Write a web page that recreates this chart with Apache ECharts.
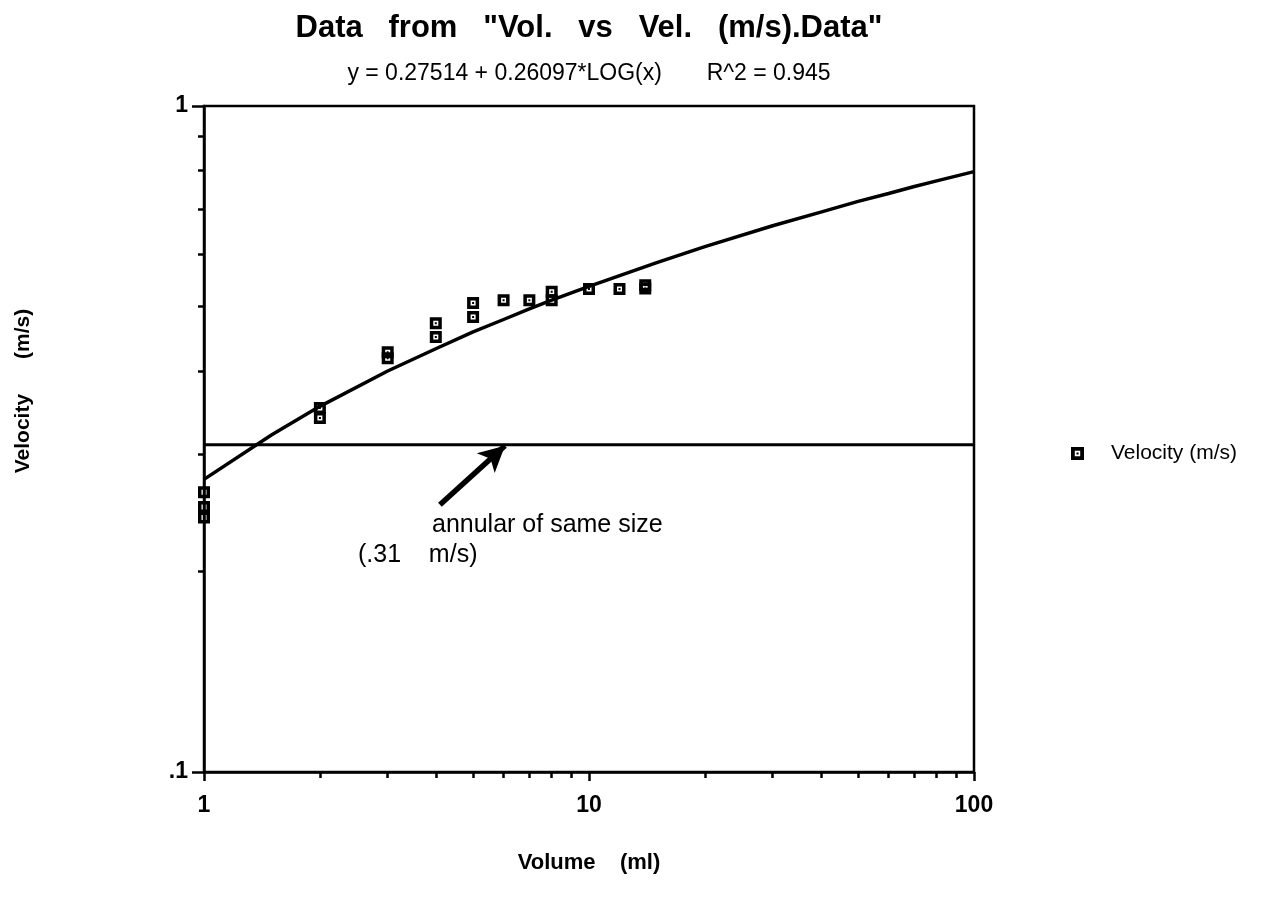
<!DOCTYPE html>
<html>
<head>
<meta charset="utf-8">
<script src="https://cdn.jsdelivr.net/npm/echarts@6/dist/echarts.min.js"></script>
<style>html,body{margin:0;padding:0;background:#fff}#c{width:1268px;height:900px}</style>
</head>
<body>
<div id="c"></div>
<script>
// ---- data ----
const volume = [1, 1, 1, 2, 2, 3, 3, 4, 4, 5, 5, 6, 7, 8, 8, 10, 12, 14, 14];
const velocity = [0.263, 0.250, 0.241, 0.352, 0.340, 0.427, 0.418, 0.472, 0.450, 0.506, 0.482, 0.511, 0.511, 0.526, 0.511, 0.531, 0.531, 0.538, 0.532];
// fitted curve as drawn: y = 0.27514 + 0.26097*LOG(x)
const fitX = [1, 1.5, 2, 3, 4, 5, 6, 7, 8, 10, 15, 20, 30, 40, 50, 60, 70, 80, 100];
const fitY = [0.275, 0.321, 0.354, 0.400, 0.432, 0.458, 0.478, 0.496, 0.511, 0.536, 0.582, 0.615, 0.661, 0.693, 0.719, 0.739, 0.757, 0.772, 0.797];
// "annular of same size" reference level
const refX = [1, 100];
const refY = [0.31, 0.31];
// arrow annotation (data coords)
const arrowFrom = [4.1, 0.252];
const arrowTo = [6.05, 0.309];
// ticks
const xMajor = [1, 10, 100];
const xMinor = [2, 3, 4, 5, 6, 7, 8, 9, 20, 30, 40, 50, 60, 70, 80, 90];
const yMajor = [0.1, 1];
const yMinor = [0.2, 0.3, 0.4, 0.5, 0.6, 0.7, 0.8, 0.9];

const FONT = '"Liberation Sans", Arial, Helvetica, sans-serif';
const SYM = 'path://M0,0H12V12H0Z M3.5,3.5V8.5H8.5V3.5Z M5,5H7V7H5Z';

const chart = echarts.init(document.getElementById('c'), null, {renderer: 'canvas'});

const axisLine = {show: true, lineStyle: {color: '#000', width: 2.5}};

const option = {
  backgroundColor: '#fff',
  animation: false,
  title: {
    text: 'Data   from   "Vol.   vs   Vel.   (m/s).Data"',
    subtext: 'y = 0.27514 + 0.26097*LOG(x)       R^2 = 0.945',
    left: 589, top: 13, textAlign: 'center', padding: 0, itemGap: 18,
    textStyle: {fontFamily: FONT, fontSize: 31, fontWeight: 'bold', color: '#000'},
    subtextStyle: {fontFamily: FONT, fontSize: 23, color: '#000'}
  },
  legend: {
    data: ['Velocity (m/s)'],
    left: 1066, top: 438, orient: 'vertical',
    itemWidth: 13, itemHeight: 13, icon: SYM,
    textStyle: {fontFamily: FONT, fontSize: 21, color: '#000', padding: [0, 0, 0, 22]}
  },
  grid: {left: 204, right: 294, top: 106, bottom: 128, show: true, borderColor: '#000', borderWidth: 2.5, backgroundColor: 'transparent'},
  xAxis: [
    {
      type: 'log', logBase: 10, min: 1, max: 100, position: 'bottom',
      name: 'Volume    (ml)', nameLocation: 'middle', nameGap: 80,
      nameTextStyle: {fontFamily: FONT, fontSize: 22, fontWeight: 'bold', color: '#000'},
      axisLine: axisLine,
      axisTick: {show: true, customValues: xMajor, length: 9, lineStyle: {color: '#000', width: 2.5}},
      axisLabel: {customValues: xMajor, margin: 22, fontFamily: FONT, fontSize: 23, fontWeight: 'bold', color: '#000',
        formatter: v => String(Math.round(v))},
      splitLine: {show: false}, minorTick: {show: false}, minorSplitLine: {show: false}
    },
    {
      type: 'log', logBase: 10, min: 1, max: 100, position: 'bottom',
      axisLine: {show: false},
      axisTick: {show: true, customValues: xMinor, length: 6, lineStyle: {color: '#000', width: 2.5}},
      axisLabel: {show: false}, splitLine: {show: false}
    }
  ],
  yAxis: [
    {
      type: 'log', logBase: 10, min: 0.1, max: 1, position: 'left',
      name: 'Velocity      (m/s)', nameLocation: 'middle', nameGap: 170, nameRotate: 90,
      nameTextStyle: {fontFamily: FONT, fontSize: 21, fontWeight: 'bold', color: '#000', padding: [0, 0, 0, 96]},
      axisLine: axisLine,
      axisTick: {show: true, customValues: yMajor, length: 12, lineStyle: {color: '#000', width: 2.5}},
      axisLabel: {customValues: yMajor, margin: 16, fontFamily: FONT, fontSize: 23, fontWeight: 'bold', color: '#000',
        formatter: v => (v >= 1 ? '1' : '.1')},
      splitLine: {show: false}, minorTick: {show: false}
    },
    {
      type: 'log', logBase: 10, min: 0.1, max: 1, position: 'left',
      axisLine: {show: false},
      axisTick: {show: true, customValues: yMinor, length: 6, lineStyle: {color: '#000', width: 2.5}},
      axisLabel: {show: false}, splitLine: {show: false}
    }
  ],
  series: [
    {
      name: 'fit', type: 'line', xAxisIndex: 0, yAxisIndex: 0,
      data: fitX.map((x, i) => [x, fitY[i]]),
      symbol: 'none', smooth: false, silent: true,
      lineStyle: {color: '#000', width: 3.5}, z: 2
    },
    {
      name: 'annular', type: 'line', xAxisIndex: 0, yAxisIndex: 0,
      data: refX.map((x, i) => [x, refY[i]]),
      symbol: 'none', silent: true,
      lineStyle: {color: '#000', width: 3}, z: 2,
      markLine: {
        silent: true, symbol: ['none', 'arrow'], symbolSize: [20, 26],
        label: {show: false},
        lineStyle: {color: '#000', width: 5.5, type: 'solid'},
        data: [[{coord: arrowFrom}, {coord: arrowTo}]]
      }
    },
    {
      name: 'Velocity (m/s)', type: 'scatter', xAxisIndex: 0, yAxisIndex: 0,
      data: volume.map((x, i) => [x, velocity[i]]),
      symbol: SYM, symbolSize: 12,
      itemStyle: {color: '#000', opacity: 1}, z: 5
    }
  ],
  graphic: [
    {type: 'text', left: 432, top: 513, style: {text: 'annular of same size', font: '25px ' + FONT, fill: '#000'}},
    {type: 'text', left: 358, top: 543, style: {text: '(.31    m/s)', font: '25px ' + FONT, fill: '#000'}}
  ]
};
chart.setOption(option);
</script>
</body>
</html>
